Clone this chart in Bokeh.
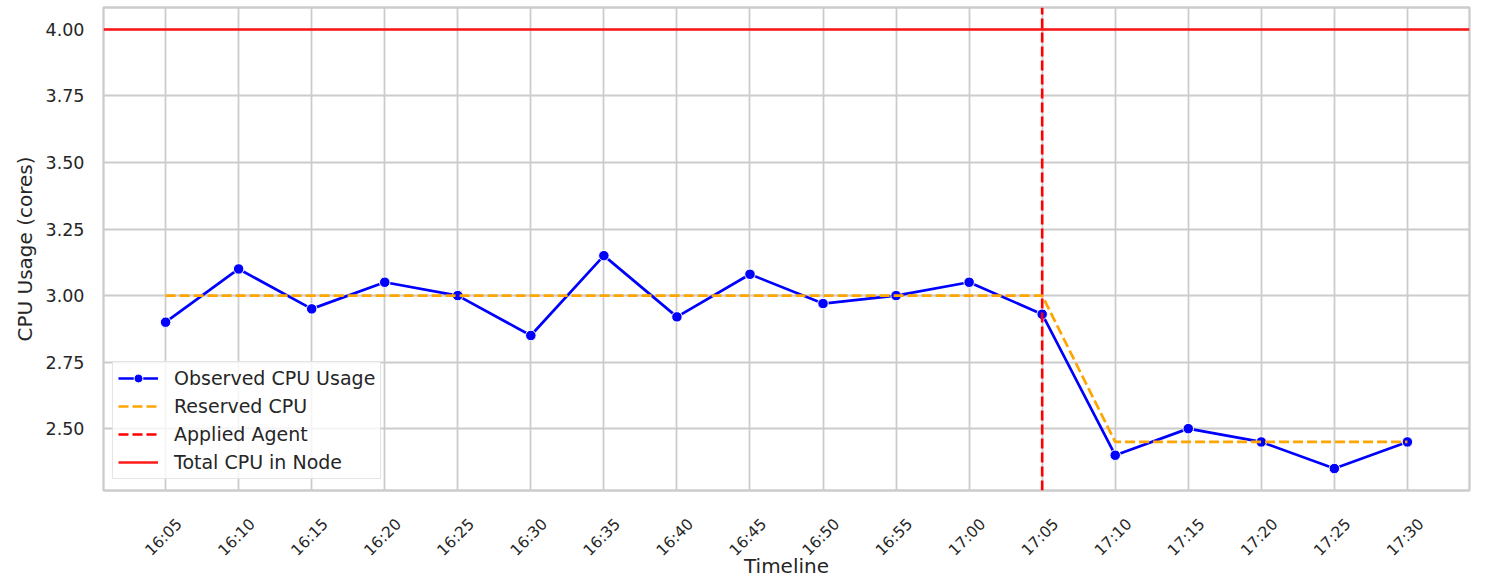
import numpy as np
from bokeh.plotting import figure
from bokeh.models import Range1d, FixedTicker, Legend, LegendItem
from bokeh.embed import file_html
from bokeh.resources import INLINE

# ---- data ----
times = ["16:05", "16:10", "16:15", "16:20", "16:25", "16:30", "16:35", "16:40", "16:45",
         "16:50", "16:55", "17:00", "17:05", "17:10", "17:15", "17:20", "17:25", "17:30"]
observed_cpu = [2.90, 3.10, 2.95, 3.05, 3.00, 2.85, 3.15, 2.92, 3.08,
                2.97, 3.00, 3.05, 2.93, 2.40, 2.50, 2.45, 2.35, 2.45]
reserved_cpu = [3.00, 3.00, 3.00, 3.00, 3.00, 3.00, 3.00, 3.00, 3.00,
                3.00, 3.00, 3.00, 3.00, 2.45, 2.45, 2.45, 2.45, 2.45]
agent_time = "17:05"
total_cpu = 4.0
y_ticks = [2.50, 2.75, 3.00, 3.25, 3.50, 3.75, 4.00]

FONT = "DejaVu Sans"
TXT = "#262626"
GRID = "#cccccc"

x = np.arange(len(times))
n = len(times)
ymin = min(observed_cpu + reserved_cpu + [total_cpu])
ymax = max(observed_cpu + reserved_cpu + [total_cpu])
pad = 0.05 * (ymax - ymin)
x_lo, x_hi = -0.05 * (n - 1), (n - 1) * 1.05
y_lo, y_hi = ymin - pad, ymax + pad

p = figure(width=1502, height=580, output_backend="svg", toolbar_location=None,
           x_range=Range1d(x_lo, x_hi), y_range=Range1d(y_lo, y_hi),
           min_border_left=103, min_border_right=33, min_border_top=7, min_border_bottom=90)
p.background_fill_color = "white"
p.border_fill_color = "white"
p.outline_line_color = GRID
p.outline_line_width = 2.3

p.xgrid.grid_line_color = GRID
p.ygrid.grid_line_color = GRID
p.xgrid.grid_line_width = 1.8
p.ygrid.grid_line_width = 1.8
p.xgrid.ticker = FixedTicker(ticks=[float(v) for v in x])

# x tick labels: Bokeh anchors a rotated label at its end, so the label ticks are
# nudged right to centre each rotated label on its category (matplotlib style)
label_shift = 0.19
label_ticks = [round(float(v) + label_shift, 4) for v in x]
p.xaxis.ticker = FixedTicker(ticks=label_ticks)
p.xaxis.major_label_overrides = {t: s for t, s in zip(label_ticks, times)}
p.xaxis.major_label_orientation = np.pi / 4
p.yaxis.ticker = FixedTicker(ticks=y_ticks)
p.yaxis.major_label_overrides = {v: f"{v:.2f}" for v in y_ticks}
for ax in (p.xaxis, p.yaxis):
    ax.axis_line_color = None
    ax.major_tick_line_color = None
    ax.minor_tick_line_color = None
    ax.major_tick_out = 0
    ax.major_tick_in = 0
    ax.major_label_text_font = FONT
    ax.major_label_text_color = TXT
    ax.axis_label_text_font = FONT
    ax.axis_label_text_font_size = "20px"
    ax.axis_label_text_font_style = "normal"
    ax.axis_label_text_color = TXT
p.yaxis.major_label_text_font_size = "17.5px"
p.xaxis.major_label_text_font_size = "15.5px"
p.yaxis.major_label_standoff = 19
p.yaxis.axis_label_standoff = 6
p.xaxis.major_label_standoff = 31
p.xaxis.axis_label_standoff = -15
p.xaxis.axis_label = "Timeline"
p.yaxis.axis_label = "CPU Usage (cores)"

# series
r_obs_l = p.line(x, observed_cpu, line_color="blue", line_width=2.7)
r_obs_m = p.scatter(x, observed_cpu, size=10.5, fill_color="blue", line_color="white", line_width=1)
r_res = p.line(x, reserved_cpu, line_color="orange", line_dash="10 4", line_width=2.7)

# reference lines
agent_x = x[times.index(agent_time)]
r_agent = p.line([agent_x, agent_x], [y_lo, y_hi], line_color="red", line_dash="10 4",
                 line_width=2.6)
r_total = p.line([x_lo, x_hi], [total_cpu, total_cpu], line_color="red", line_width=2.6,
                 line_alpha=0.9)

legend = Legend(items=[
    LegendItem(label="Observed CPU Usage", renderers=[r_obs_l, r_obs_m]),
    LegendItem(label="Reserved CPU", renderers=[r_res]),
    LegendItem(label="Applied Agent", renderers=[r_agent]),
    LegendItem(label="Total CPU in Node", renderers=[r_total]),
], location=(9, 11))
legend.label_text_font = FONT
legend.label_text_font_size = "19px"
legend.label_text_color = TXT
legend.label_height = 22
legend.glyph_height = 22
legend.glyph_width = 40
legend.label_standoff = 16
legend.spacing = 6
legend.padding = 5
legend.margin = 0
legend.background_fill_color = "white"
legend.background_fill_alpha = 0.8
legend.border_line_color = GRID
legend.border_line_width = 1
p.add_layout(legend, "center")

open("out.html", "w").write(file_html(p, INLINE))
